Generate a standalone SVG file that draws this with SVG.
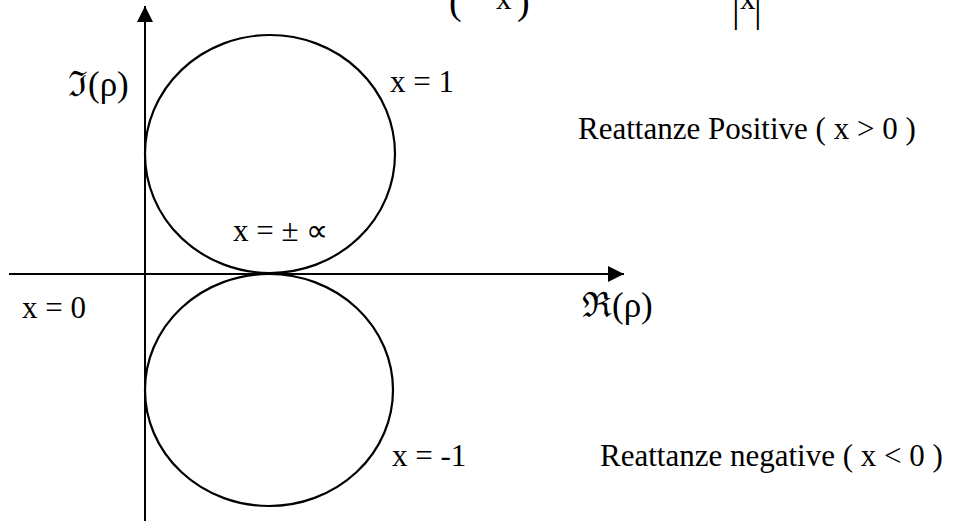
<svg xmlns="http://www.w3.org/2000/svg" width="955" height="524" viewBox="0 0 955 524">
<style>
.t{font-family:"Liberation Serif","Times New Roman",serif;font-size:31px;fill:#000}
.big{font-size:35px}
.ax{stroke:#000;stroke-width:2;fill:none}
.c{stroke:#000;stroke-width:2.2;fill:none}
</style>
<defs>
<marker id="ar" viewBox="0 0 16 16" refX="16" refY="8" markerWidth="16" markerHeight="16" markerUnits="userSpaceOnUse" orient="auto">
<path d="M0,0 L16,8 L0,16 Z" fill="#000"/>
</marker>
</defs>
<rect width="955" height="524" fill="#fff"/>
<g id="connectors">
<line class="ax" x1="145" y1="521" x2="145" y2="6" marker-end="url(#ar)"/>
<line class="ax" x1="9" y1="274" x2="624" y2="274" marker-end="url(#ar)"/>
</g>
<g id="circle-positive">
<ellipse class="c" cx="270" cy="154" rx="125" ry="119"/>
</g>
<g id="circle-negative">
<ellipse class="c" cx="269" cy="390" rx="124" ry="116"/>
</g>
<g id="formula-fragment">
<text class="t" x="449" y="14" style="font-size:38px">(</text>
<text class="t" x="496" y="9">x</text>
<text class="t" x="517" y="14" style="font-size:38px">)</text>
<text class="t" x="732" y="22" style="font-size:38px">|</text>
<text class="t" x="740" y="9">x</text>
<text class="t" x="754" y="22" style="font-size:38px">|</text>
</g>
<g id="labels">
<text class="t big" x="68" y="96">ℑ(ρ)</text>
<text class="t" x="390" y="92">x = 1</text>
<text class="t" x="578" y="139">Reattanze Positive ( x &gt; 0 )</text>
<text class="t" x="233" y="241">x = ± ∝</text>
<text class="t" x="22" y="318">x = 0</text>
<text class="t big" x="582" y="317">ℜ(ρ)</text>
<text class="t" x="392" y="466">x = -1</text>
<text class="t" x="600" y="466">Reattanze negative ( x &lt; 0 )</text>
</g>
</svg>
